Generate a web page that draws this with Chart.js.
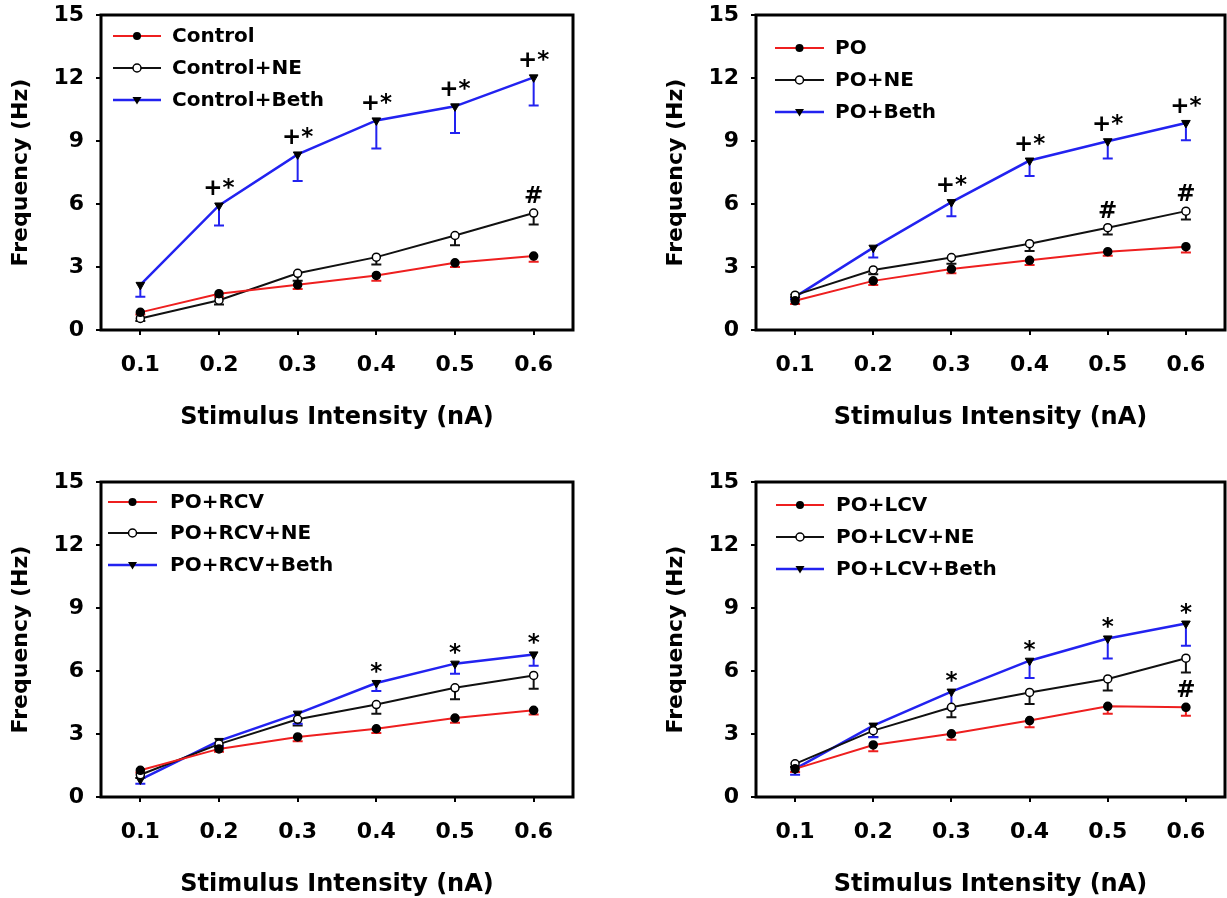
<!DOCTYPE html>
<html>
<head>
<meta charset="utf-8">
<script src="https://cdn.jsdelivr.net/npm/chart.js@4.4.1/dist/chart.umd.min.js"></script>
<style>
html, body { margin: 0; padding: 0; background: #fff; width: 1227px; height: 898px; overflow: hidden; }
canvas { position: absolute; }
</style>
</head>
<body>
<canvas id="c1" width="575" height="449" style="left:0;top:0"></canvas>
<canvas id="c2" width="572" height="449" style="left:655px;top:0"></canvas>
<canvas id="c3" width="575" height="449" style="left:0;top:467px"></canvas>
<canvas id="c4" width="572" height="449" style="left:655px;top:467px"></canvas>
<script>
const intensities = ['0.1', '0.2', '0.3', '0.4', '0.5', '0.6'];
const yMin = 0, yMax = 15, yStep = 3;

// top left: control
const controlMean = [0.84, 1.73, 2.15, 2.6, 3.2, 3.52];
const controlErr = [0.1, 0.15, 0.2, 0.25, 0.2, 0.27];
const controlNeMean = [0.55, 1.42, 2.7, 3.47, 4.5, 5.57];
const controlNeErr = [0.12, 0.2, 0.35, 0.35, 0.47, 0.55];
const controlBethMean = [2.15, 5.93, 8.36, 9.98, 10.65, 12.03];
const controlBethErr = [0.57, 0.95, 1.26, 1.34, 1.27, 1.34];
const controlNeMarks = ['', '', '', '', '', '#'];
const controlBethMarks = ['', '+*', '+*', '+*', '+*', '+*'];

// top right: PO
const poMean = [1.39, 2.34, 2.9, 3.32, 3.73, 3.97];
const poErr = [0.15, 0.2, 0.2, 0.22, 0.2, 0.28];
const poNeMean = [1.66, 2.86, 3.45, 4.11, 4.87, 5.66];
const poNeErr = [0.1, 0.2, 0.3, 0.35, 0.32, 0.4];
const poBethMean = [1.58, 3.92, 6.09, 8.07, 8.99, 9.86];
const poBethErr = [0.1, 0.47, 0.67, 0.74, 0.82, 0.82];
const poNeMarks = ['', '', '', '', '#', '#'];
const poBethMarks = ['', '', '+*', '+*', '+*', '+*'];

// bottom left: PO+RCV
const rcvMean = [1.27, 2.29, 2.86, 3.25, 3.76, 4.13];
const rcvErr = [0.1, 0.14, 0.2, 0.2, 0.22, 0.2];
const rcvNeMean = [1.06, 2.52, 3.7, 4.4, 5.2, 5.79];
const rcvNeErr = [0.15, 0.15, 0.3, 0.43, 0.54, 0.63];
const rcvBethMean = [0.83, 2.67, 3.97, 5.43, 6.35, 6.79];
const rcvBethErr = [0.2, 0.25, 0.48, 0.38, 0.48, 0.54];
const rcvBethMarks = ['', '', '', '*', '*', '*'];

// bottom right: PO+LCV
const lcvMean = [1.34, 2.48, 3.01, 3.64, 4.32, 4.27];
const lcvErr = [0.15, 0.3, 0.28, 0.32, 0.36, 0.4];
const lcvNeMean = [1.58, 3.16, 4.27, 4.98, 5.62, 6.61];
const lcvNeErr = [0.15, 0.3, 0.47, 0.55, 0.55, 0.68];
const lcvBethMean = [1.34, 3.4, 5.02, 6.49, 7.55, 8.26];
const lcvBethErr = [0.28, 0.55, 0.82, 0.82, 0.95, 1.06];
const lcvMarks = ['', '', '', '', '', '#'];
const lcvBethMarks = ['', '', '*', '*', '*', '*'];

const RED = '#ee1f1f';
const BLUE = '#2222f0';
const BLACK = '#111111';
const FONT = 'DejaVu Sans';

// marker drawn in the legend, same look as the chart points
function drawMarker(ctx, kind, x, y) {
    ctx.save();
    ctx.beginPath();
    if (kind === 'dot') {
        ctx.arc(x, y, 4, 0, Math.PI * 2);
        ctx.fillStyle = '#000';
        ctx.fill();
    } else if (kind === 'open') {
        ctx.arc(x, y, 4, 0, Math.PI * 2);
        ctx.fillStyle = '#fff';
        ctx.fill();
        ctx.lineWidth = 1.5;
        ctx.strokeStyle = '#000';
        ctx.stroke();
    } else {
        ctx.moveTo(x - 4.5, y - 3);
        ctx.lineTo(x + 4.5, y - 3);
        ctx.lineTo(x, y + 4.5);
        ctx.closePath();
        ctx.fillStyle = '#000';
        ctx.fill();
    }
    ctx.restore();
}

function series(label, color, data, err, marker, marks) {
    const ds = {
        label, data, err, marker,
        marks: marks || [],
        borderColor: color,
        backgroundColor: color,
        borderWidth: color === BLUE ? 2.5 : 2,
        tension: 0,
        pointRadius: 4,
        pointBorderColor: '#000',
        pointBorderWidth: 1.5,
        pointBackgroundColor: '#000',
        pointStyle: 'circle',
    };
    if (marker === 'open') ds.pointBackgroundColor = '#fff';
    if (marker === 'tri') {
        ds.pointStyle = 'triangle';
        ds.pointRotation = 180;
        ds.pointRadius = 5;
        ds.pointBorderWidth = 1;
    }
    return ds;
}

const markOffset = { '+*': 10, '#': 10, '*': 4 };

const panelDecor = {
    id: 'panelDecor',
    beforeDatasetsDraw(chart) {
        const { ctx, scales: { x, y } } = chart;
        // downward error bars with caps
        chart.data.datasets.forEach(ds => {
            ctx.save();
            ctx.strokeStyle = ds.borderColor;
            ctx.lineWidth = 2;
            ds.data.forEach((v, i) => {
                const px = x.getPixelForValue(i);
                const top = y.getPixelForValue(v);
                const bot = y.getPixelForValue(v - ds.err[i]);
                ctx.beginPath();
                ctx.moveTo(px, top);
                ctx.lineTo(px, bot);
                ctx.moveTo(px - 5, bot);
                ctx.lineTo(px + 5, bot);
                ctx.stroke();
            });
            ctx.restore();
        });
    },
    afterDraw(chart, args, opts) {
        const { ctx, chartArea: a, scales: { x, y } } = chart;
        ctx.save();
        // box frame
        ctx.lineWidth = 3;
        ctx.strokeStyle = '#000';
        ctx.strokeRect(a.left, a.top, a.right - a.left, a.bottom - a.top);

        // significance marks
        ctx.fillStyle = '#000';
        ctx.font = `bold 23px "${FONT}"`;
        ctx.textAlign = 'center';
        ctx.textBaseline = 'alphabetic';
        chart.data.datasets.forEach(ds => {
            ds.marks.forEach((m, i) => {
                if (!m) return;
                const px = x.getPixelForValue(i);
                const py = y.getPixelForValue(ds.data[i]);
                ctx.fillText(m, px, py - markOffset[m]);
            });
        });

        // legend
        ctx.font = `bold 20px "${FONT}"`;
        ctx.textAlign = 'left';
        ctx.textBaseline = 'middle';
        chart.data.datasets.forEach((ds, i) => {
            const ry = a.top + opts.rows[i];
            const x1 = a.left + opts.lineStart;
            const x2 = a.left + opts.lineEnd;
            ctx.beginPath();
            ctx.strokeStyle = ds.borderColor;
            ctx.lineWidth = ds.borderWidth;
            ctx.moveTo(x1, ry);
            ctx.lineTo(x2, ry);
            ctx.stroke();
            drawMarker(ctx, ds.marker, (x1 + x2) / 2, ry);
            ctx.fillStyle = '#000';
            ctx.fillText(ds.label, a.left + opts.textX, ry + 1);
        });
        ctx.restore();
    }
};

function makePanel(id, datasets, legend) {
    return new Chart(document.getElementById(id), {
        type: 'line',
        data: { labels: intensities, datasets },
        options: {
            responsive: false,
            animation: false,
            events: [],
            layout: { autoPadding: false, padding: { top: 15, right: 2, bottom: 0, left: 0 } },
            plugins: {
                legend: { display: false },
                tooltip: { enabled: false },
                panelDecor: legend,
            },
            scales: {
                x: {
                    type: 'category',
                    offset: true,
                    afterFit(scale) { scale.height = 119; },
                    grid: { display: true, offset: false, drawOnChartArea: false, drawTicks: true, tickLength: 5, color: '#000', lineWidth: 2 },
                    border: { display: false },
                    ticks: { color: '#000', padding: 17, font: { family: FONT, size: 22, weight: 'bold' } },
                    title: { display: true, text: 'Stimulus Intensity (nA)', color: '#000', padding: { top: 0, bottom: 17 }, font: { family: FONT, size: 24, weight: 'bold' } },
                },
                y: {
                    min: yMin,
                    max: yMax,
                    afterFit(scale) {
                        scale.width = 101;
                        scale.paddingTop = 0;
                        scale.paddingBottom = 0;
                    },
                    grid: { display: true, drawOnChartArea: false, drawTicks: true, tickLength: 5, color: '#000', lineWidth: 2 },
                    border: { display: false },
                    ticks: { stepSize: yStep, color: '#000', padding: 12, font: { family: FONT, size: 22, weight: 'bold' } },
                    title: { display: true, text: 'Frequency (Hz)', color: '#000', padding: { top: 8, bottom: 0 }, font: { family: FONT, size: 22, weight: 'bold' } },
                },
            },
        },
        plugins: [panelDecor],
    });
}

makePanel('c1', [
    series('Control', RED, controlMean, controlErr, 'dot'),
    series('Control+NE', BLACK, controlNeMean, controlNeErr, 'open', controlNeMarks),
    series('Control+Beth', BLUE, controlBethMean, controlBethErr, 'tri', controlBethMarks),
], { rows: [21, 53, 85], lineStart: 12, lineEnd: 60, textX: 71 });

makePanel('c2', [
    series('PO', RED, poMean, poErr, 'dot'),
    series('PO+NE', BLACK, poNeMean, poNeErr, 'open', poNeMarks),
    series('PO+Beth', BLUE, poBethMean, poBethErr, 'tri', poBethMarks),
], { rows: [33, 65, 97], lineStart: 19, lineEnd: 68, textX: 79 });

makePanel('c3', [
    series('PO+RCV', RED, rcvMean, rcvErr, 'dot'),
    series('PO+RCV+NE', BLACK, rcvNeMean, rcvNeErr, 'open'),
    series('PO+RCV+Beth', BLUE, rcvBethMean, rcvBethErr, 'tri', rcvBethMarks),
], { rows: [20, 51, 83], lineStart: 7, lineEnd: 56, textX: 69 });

makePanel('c4', [
    series('PO+LCV', RED, lcvMean, lcvErr, 'dot', lcvMarks),
    series('PO+LCV+NE', BLACK, lcvNeMean, lcvNeErr, 'open'),
    series('PO+LCV+Beth', BLUE, lcvBethMean, lcvBethErr, 'tri', lcvBethMarks),
], { rows: [23, 55, 87], lineStart: 20, lineEnd: 68, textX: 80 });
</script>
</body>
</html>
